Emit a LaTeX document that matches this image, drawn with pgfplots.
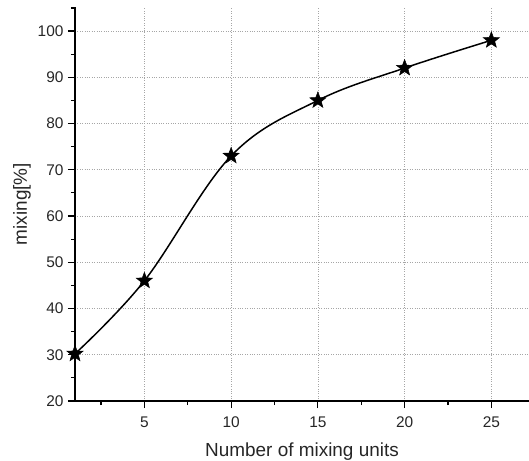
\documentclass[border=0pt]{standalone}
\usepackage{fontspec}
\setmainfont{Liberation Sans}
\usepackage{pgfplots}
\pgfplotsset{compat=1.18}
\pgfdeclareplotmark{fstar}{%
  \pgfpathmoveto{\pgfpointpolar{90}{\pgfplotmarksize}}%
  \pgfpathlineto{\pgfpointpolar{126}{0.42\pgfplotmarksize}}%
  \pgfpathlineto{\pgfpointpolar{162}{\pgfplotmarksize}}%
  \pgfpathlineto{\pgfpointpolar{198}{0.42\pgfplotmarksize}}%
  \pgfpathlineto{\pgfpointpolar{234}{\pgfplotmarksize}}%
  \pgfpathlineto{\pgfpointpolar{270}{0.42\pgfplotmarksize}}%
  \pgfpathlineto{\pgfpointpolar{306}{\pgfplotmarksize}}%
  \pgfpathlineto{\pgfpointpolar{342}{0.42\pgfplotmarksize}}%
  \pgfpathlineto{\pgfpointpolar{18}{\pgfplotmarksize}}%
  \pgfpathlineto{\pgfpointpolar{54}{0.42\pgfplotmarksize}}%
  \pgfpathclose
  \pgfusepathqfillstroke
}
\begin{document}
\begin{tikzpicture}
\useasboundingbox (-75bp,-60bp) rectangle (454bp,401bp);
\begin{axis}[
  scale only axis,
  width=454bp, height=394bp,
  xmin=1, xmax=27.17,
  ymin=20, ymax=105.2,
  axis x line*=bottom, axis y line*=left,
  axis line style={line width=1.3pt, -},
  xtick={5,10,15,20,25},
  minor xtick={2.5,7.5,12.5,17.5,22.5},
  ytick={20,30,...,100},
  minor ytick={25,35,...,105},
  tick align=outside,
  major tick length=7bp, minor tick length=4bp,
  tick style={line width=1.2pt, black},
  grid=major,
  major grid style={dotted, gray!70, line width=0.6pt},
  /pgf/number format/assume math mode=true,
  tick label style={font=\fontsize{15.5}{18}\selectfont, text=black!85},
  xticklabel style={yshift=-5bp},
  yticklabel style={xshift=-1bp},
  label style={font=\fontsize{19}{22}\selectfont, text=black!85},
  xlabel style={yshift=-8.5bp},
  xlabel={Number of mixing units},
  ylabel={mixing[\%]},
  clip=false,
]
\addplot[black, line width=1.5pt, smooth, tension=0.6, mark=fstar, mark size=8.5bp, mark options={solid, fill=black, line width=0.5pt}] coordinates {
  (1,30.2) (5,46) (10,73) (15,85) (20,92) (25,98)
};
\end{axis}
\end{tikzpicture}
\end{document}
